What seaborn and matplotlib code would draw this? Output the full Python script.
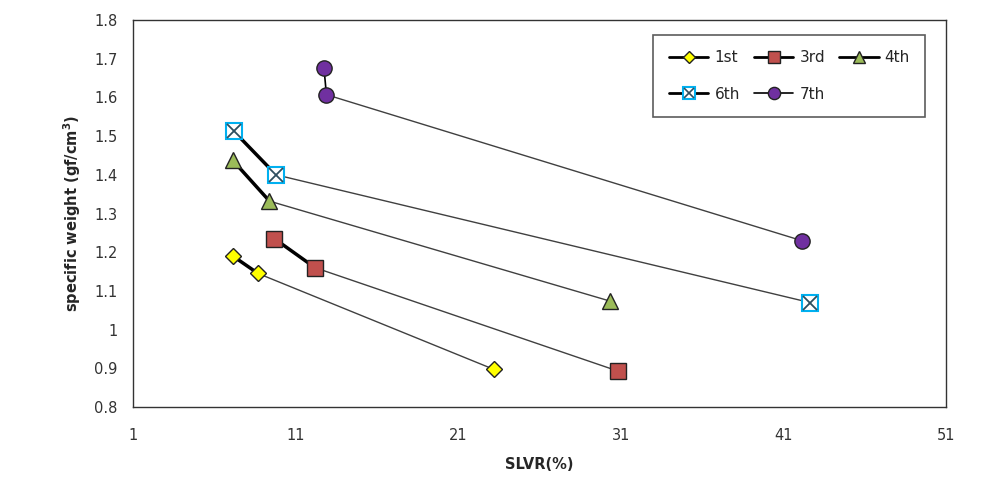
import matplotlib
matplotlib.use("Agg")
import matplotlib.pyplot as plt
import seaborn as sns
import pandas as pd
from matplotlib.lines import Line2D
from matplotlib.legend_handler import HandlerTuple

# data
series = ["1st", "3rd", "4th", "6th", "7th"]
slvr = {
    "1st": [7.15, 8.7, 23.2],
    "3rd": [9.7, 12.2, 30.8],
    "4th": [7.15, 9.4, 30.3],
    "6th": [7.2, 9.8, 42.6],
    "7th": [12.75, 12.9, 42.1],
}
weight = {
    "1st": [1.19, 1.145, 0.897],
    "3rd": [1.235, 1.16, 0.893],
    "4th": [1.437, 1.332, 1.074],
    "6th": [1.513, 1.400, 1.070],
    "7th": [1.675, 1.607, 1.230],
}

# marker styles
styles = {
    "1st": dict(marker="D", fc="#FFFF00", ms=8),
    "3rd": dict(marker="s", fc="#C0504D", ms=11),
    "4th": dict(marker="^", fc="#9BBB59", ms=11),
    "6th": dict(marker="s", fc="white", ms=12),
    "7th": dict(marker="o", fc="#7030A0", ms=11),
}

sns.set_style("white")
plt.rcParams["font.family"] = ["DejaVu Sans"]

fig = plt.figure(figsize=(9.91, 4.88), dpi=100)
ax = fig.add_axes([0.134, 0.166, 0.821, 0.793])

for s in series:
    df = pd.DataFrame({"x": slvr[s], "y": weight[s]})
    first_w = 1.2 if s == "7th" else 2.5
    sns.lineplot(data=df.iloc[:2], x="x", y="y", color="black", lw=first_w,
                 sort=False, ax=ax, zorder=2)
    sns.lineplot(data=df.iloc[1:], x="x", y="y", color="#404040", lw=1.0,
                 sort=False, ax=ax, zorder=2)
    st = styles[s]
    if s == "6th":
        ax.plot(df["x"], df["y"], ls="none", marker="s", ms=st["ms"],
                mfc="white", mec="#00B0F0", mew=1.5, zorder=3)
        ax.plot(df["x"], df["y"], ls="none", marker="x", ms=st["ms"] - 2,
                mec="#2F4F5F", mew=1.3, zorder=4)
    else:
        ax.plot(df["x"], df["y"], ls="none", marker=st["marker"], ms=st["ms"],
                mfc=st["fc"], mec="#222222", mew=1.0, zorder=3)

ax.set_xlim(1, 51)
ax.set_ylim(0.8, 1.8)
ax.set_xticks([1, 11, 21, 31, 41, 51])
ax.set_yticks([0.8, 0.9, 1.0, 1.1, 1.2, 1.3, 1.4, 1.5, 1.6, 1.7, 1.8])
ax.set_yticklabels(["0.8", "0.9", "1", "1.1", "1.2", "1.3", "1.4", "1.5",
                    "1.6", "1.7", "1.8"])
ax.tick_params(axis="both", direction="out", length=5, width=1,
               colors="#333333", labelsize=10.5, pad=6)
ax.tick_params(axis="x", pad=10)
for sp in ax.spines.values():
    sp.set_color("#333333")
    sp.set_linewidth(1)

ax.set_xlabel("SLVR(%)", fontsize=10.5, fontweight="bold", labelpad=10)
ax.set_ylabel("specific weight (gf/cm$^\\mathbf{3}$)", fontsize=10.5,
              fontweight="bold", labelpad=8)

# legend handles
handles = {}
for s in series:
    st = styles[s]
    lw = 1.2 if s == "7th" else 2.0
    if s == "6th":
        h1 = Line2D([], [], color="black", lw=lw, marker="s", ms=9,
                    mfc="white", mec="#00B0F0", mew=1.5)
        h2 = Line2D([], [], ls="none", marker="x", ms=7, mec="#2F4F5F",
                    mew=1.2)
        handles[s] = (h1, h2)
    else:
        handles[s] = Line2D([], [], color="black", lw=lw, marker=st["marker"],
                            ms=st["ms"] * 0.8, mfc=st["fc"], mec="#222222",
                            mew=1.0)

order = ["1st", "6th", "3rd", "7th", "4th"]
leg = ax.legend([handles[s] for s in order], order, ncol=3,
                loc="upper right", bbox_to_anchor=(0.974, 0.961),
                borderaxespad=0,
                fontsize=11, frameon=True, fancybox=False, edgecolor="#333333",
                handlelength=2.6, columnspacing=0.9, handletextpad=0.4,
                labelspacing=1.4, borderpad=1.0,
                handler_map={tuple: HandlerTuple(ndivide=1)})
leg.get_frame().set_linewidth(1.2)

fig.savefig("out.png", dpi=100)
